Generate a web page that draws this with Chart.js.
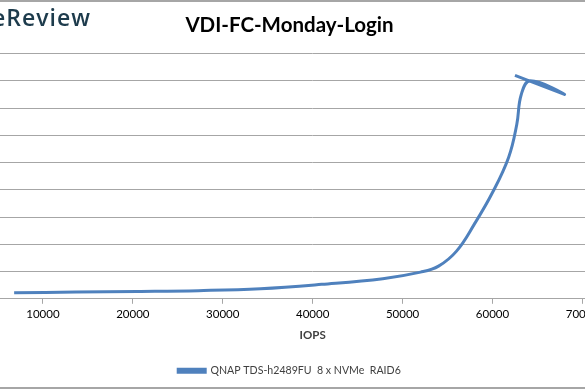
<!DOCTYPE html>
<html>
<head>
<meta charset="utf-8">
<script src="https://cdn.jsdelivr.net/npm/chart.js@4"></script>
<style>
    html, body { margin: 0; padding: 0; background: #fff; overflow: hidden; width: 585px; height: 390px; }
    #wrap { position: absolute; left: -110px; top: 0; width: 803px; height: 390px; }
    .frame { position: absolute; left: 0; width: 585px; height: 2px; background: #a6a6a6; }
    #logo { position: absolute; left: -209px; top: 1px; width: 300px; text-align: right; font: 600 23px "Open Sans", sans-serif; letter-spacing: 1px; color: #1d3b4c; white-space: nowrap; }
</style>
</head>
<body>
<div id="wrap"><canvas id="chart"></canvas></div>
<div class="frame" style="top:0"></div>
<div class="frame" style="top:387px"></div>
<div id="logo">StorageReview</div>
<script>
const chartTitle = "VDI-FC-Monday-Login";
const seriesName = "QNAP TDS-h2489FU  8 x NVMe  RAID6";
const iops = [6800, 13700, 20500, 27300, 34200, 41000, 47800, 52000, 54000, 56000, 58000, 60000, 61800, 62700, 63200, 64200, 68000, 62500];
const latency = [0.22, 0.25, 0.27, 0.3, 0.37, 0.53, 0.74, 0.98, 1.2, 1.75, 2.75, 3.9, 5.2, 6.4, 7.5, 8.0, 7.5, 8.2];
const xTicks = [0, 10000, 20000, 30000, 40000, 50000, 60000, 70000, 80000];

const blue = "#4f81bd";
const gridColor = "#a6a6a6";
const textColor = "#404040";

new Chart(document.getElementById("chart"), {
    type: "line",
    data: {
        datasets: [{
            label: seriesName,
            data: iops.map((x, i) => ({ x, y: latency[i] })),
            borderColor: blue,
            backgroundColor: blue,
            borderWidth: 3,
            pointRadius: 0,
            tension: 0.4,
            fill: false
        }]
    },
    options: {
        responsive: true,
        maintainAspectRatio: false,
        animation: false,
        layout: { padding: { left: 16, right: 20, top: 0, bottom: 4 } },
        plugins: {
            title: { display: true, text: chartTitle, color: "#000", font: { family: "Lato", size: 20.5, weight: "bold" }, padding: { top: 13, bottom: 16 } },
            legend: {
                position: "bottom",
                labels: { color: textColor, font: { family: "Lato", size: 10.6 }, boxWidth: 27, boxHeight: 3, padding: 10 }
            },
            tooltip: { enabled: false }
        },
        scales: {
            x: {
                type: "linear",
                min: 0,
                max: 80000,
                afterBuildTicks: (scale) => { scale.ticks = xTicks.map((value) => ({ value })); },
                ticks: { color: "#000", font: { family: "Lato", size: 11.5 }, padding: 4, maxRotation: 0, callback: (v) => String(v) },
                grid: { drawOnChartArea: false, drawTicks: true, tickLength: 5, color: gridColor },
                border: { color: gridColor },
                title: { display: true, text: "IOPS", color: textColor, font: { family: "Lato", size: 11.5, weight: "bold" }, padding: { top: 3, bottom: 13 } }
            },
            y: {
                min: 0,
                max: 9,
                ticks: { display: false, stepSize: 1 },
                afterFit: (scale) => { scale.width = 47; },
                grid: { color: gridColor, drawTicks: false },
                border: { display: false }
            }
        }
    }
});
</script>
</body>
</html>
